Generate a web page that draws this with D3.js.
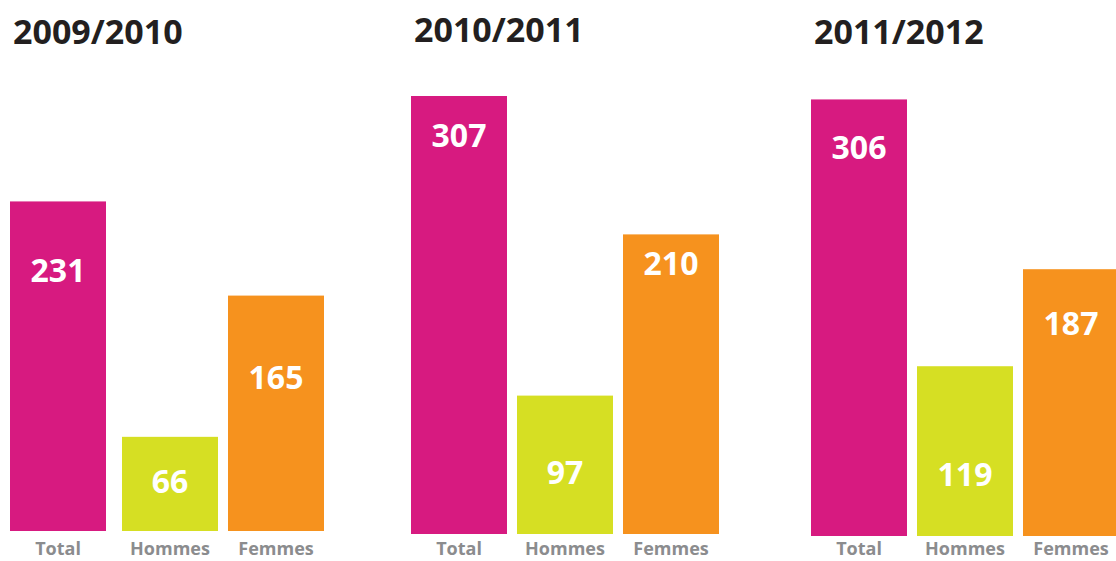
<!DOCTYPE html>
<html lang="fr">
  <head>
    <meta charset="utf-8">
    <title>Effectifs 2009-2012</title>
    <script type="text/javascript" src="https://cdn.jsdelivr.net/npm/d3@7"></script>
    <style>
      body { margin: 0; background: #fff; }
      text { font-family: "Open Sans", "Noto Sans", sans-serif; font-weight: 700; }
    </style>
  </head>
  <body>
    <script type="text/javascript">
    // data
    var years = ["2009/2010", "2010/2011", "2011/2012"];
    var categories = ["Total", "Hommes", "Femmes"];
    var totals = [231, 307, 306];
    var hommes = [66, 97, 119];
    var femmes = [165, 210, 187];

    var colours = ["#d71a80", "#d6df23", "#f6921e"];

    // layout of each panel (left edge of first bar, baseline, title baseline)
    var panelX = [10, 411, 811];
    var panelBase = [531, 534, 536];
    var titleY = [44, 42, 44];
    // extra space after the Total bar (first panel is a bit wider)
    var extraGap = [6, 0, 0];
    // how far below the top of its bar each value sits (baseline), per panel
    var labelDrop = [[81, 56, 93], [51, 88, 41], [60, 120, 66]];

    var w = 1116;
    var h = 561;

    var svg = d3.select("body")
                .append("svg")
                .attr("width", w)
                .attr("height", h);

    // one value scale shared by all panels
    var y = d3.scaleLinear()
              .domain([0, 307])
              .range([0, 438]);

    // 96px bars on a 106px step
    var x = d3.scaleBand()
              .domain(categories)
              .range([0, 308])
              .paddingInner(10 / 106)
              .paddingOuter(0);

    var colour = d3.scaleOrdinal()
                   .domain(categories)
                   .range(colours);

    var panels = years.map(function(yr, i) {
      return {
        year: yr,
        i: i,
        values: [totals[i], hommes[i], femmes[i]]
      };
    });

    var g = svg.selectAll("g.panel")
               .data(panels)
               .enter()
               .append("g")
               .attr("class", "panel")
               .attr("transform", function(d) {
                 return "translate(" + panelX[d.i] + "," + panelBase[d.i] + ")";
               });

    // year title
    g.append("text")
     .attr("x", 3)
     .attr("y", function(d) { return titleY[d.i] - panelBase[d.i]; })
     .attr("fill", "#231f20")
     .attr("font-size", 34)
     .text(function(d) { return d.year; });

    var bars = g.selectAll("g.bar")
                .data(function(d) {
                  return d.values.map(function(v, j) {
                    return { cat: categories[j], value: v, panel: d.i, j: j };
                  });
                })
                .enter()
                .append("g")
                .attr("class", "bar")
                .attr("transform", function(d) {
                  return "translate(" + (d.j > 0 ? extraGap[d.panel] : 0) + ",0)";
                });

    bars.append("rect")
        .attr("x", function(d) { return x(d.cat); })
        .attr("y", function(d) { return -y(d.value); })
        .attr("width", x.bandwidth())
        .attr("height", function(d) { return y(d.value); })
        .attr("fill", function(d) { return colour(d.cat); });

    // value inside the bar
    bars.append("text")
        .attr("x", function(d) { return x(d.cat) + x.bandwidth() / 2; })
        .attr("y", function(d) { return -y(d.value) + labelDrop[d.panel][d.j]; })
        .attr("text-anchor", "middle")
        .attr("fill", "#fff")
        .attr("font-size", 32)
        .text(function(d) { return d.value; });

    // category label under the bar, kept inside the page bottom
    bars.append("text")
        .attr("x", function(d) { return x(d.cat) + x.bandwidth() / 2; })
        .attr("y", function(d) { return Math.min(24, 555 - panelBase[d.panel]); })
        .attr("text-anchor", "middle")
        .attr("fill", "#8b8c8e")
        .attr("font-size", 18)
        .text(function(d) { return d.cat; });

    </script>
  </body>
</html>
